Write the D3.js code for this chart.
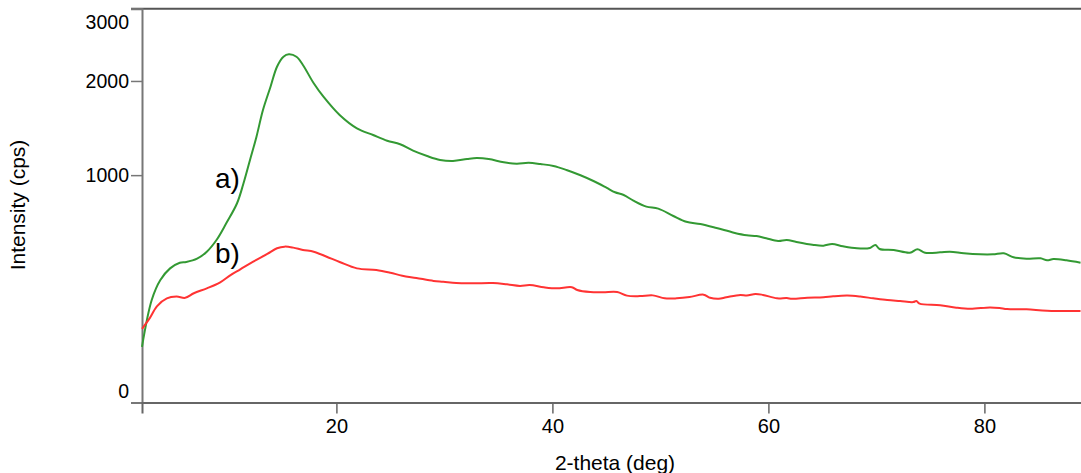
<!DOCTYPE html>
<html>
<head>
<meta charset="utf-8">
<script src="https://cdn.jsdelivr.net/npm/d3@7"></script>
<style>
  html, body { margin: 0; padding: 0; background: #fff; }
  svg { display: block; font-family: "Liberation Sans", Arial, sans-serif; }
</style>
</head>
<body>
<svg id="chart" width="1081" height="473"></svg>
<script>
// XRD pattern, intensity on a square-root axis
const yTicks = [0, 1000, 2000, 3000];
const xTicks = [20, 40, 60, 80];

// a) sample: 2-theta (deg), intensity (cps)
const thetaA = [2.0, 2.9, 3.7, 4.6, 5.5, 6.1, 7.1, 8.0, 8.9, 9.8, 10.8, 11.4, 12.0, 12.6, 13.2, 13.9, 14.5, 15.1, 15.6, 16.3, 16.9, 17.9, 18.8, 20.3, 21.9, 23.4, 24.7, 25.9, 27.1, 28.4, 29.6, 30.8, 32.1, 33.0, 34.1, 35.5, 36.7, 37.8, 38.9, 40.1, 41.3, 42.6, 43.8, 45.0, 45.8, 46.6, 47.5, 48.7, 49.8, 51.2, 52.4, 53.7, 55.2, 56.8, 58.0, 58.9, 59.8, 60.9, 61.7, 62.6, 64.2, 65.1, 65.9, 66.9, 68.2, 69.4, 69.9, 70.3, 71.6, 73.1, 73.8, 74.5, 75.9, 76.8, 78.1, 79.6, 80.8, 81.8, 82.7, 83.9, 85.2, 85.8, 86.4, 87.6, 88.9];
const countsA = [60, 203, 290, 348, 378, 382, 400, 440, 511, 621, 768, 930, 1138, 1367, 1655, 1929, 2181, 2313, 2345, 2313, 2204, 1971, 1809, 1599, 1454, 1384, 1326, 1290, 1227, 1175, 1138, 1128, 1147, 1156, 1147, 1116, 1103, 1112, 1100, 1082, 1046, 999, 949, 893, 855, 833, 788, 742, 727, 673, 632, 616, 589, 558, 541, 536, 522, 505, 511, 498, 480, 476, 486, 472, 460, 462, 480, 456, 450, 434, 454, 434, 436, 440, 431, 425, 425, 431, 408, 400, 402, 391, 398, 391, 378];

// b) sample
const thetaB = [2.0, 2.7, 3.4, 4.3, 5.2, 6.0, 6.8, 8.0, 9.2, 10.2, 11.1, 12.3, 13.6, 14.5, 15.2, 16.0, 16.9, 17.9, 19.1, 20.3, 21.9, 23.7, 25.0, 26.1, 27.4, 29.0, 29.9, 31.1, 32.7, 34.5, 35.8, 37.0, 37.9, 39.2, 40.4, 41.8, 42.3, 43.5, 44.7, 46.0, 46.9, 48.1, 49.3, 50.4, 51.5, 52.7, 54.0, 54.6, 55.4, 56.1, 57.4, 58.0, 58.8, 59.5, 60.8, 61.7, 62.2, 63.6, 65.1, 66.0, 67.3, 68.5, 69.7, 71.0, 72.2, 73.4, 73.7, 74.0, 75.9, 77.4, 78.7, 80.5, 81.4, 82.1, 83.9, 85.8, 88.9];
const countsB = [105, 137, 180, 210, 217, 212, 231, 252, 278, 314, 343, 384, 427, 460, 470, 464, 450, 440, 411, 382, 348, 340, 326, 311, 300, 286, 282, 276, 275, 276, 270, 263, 267, 257, 252, 257, 245, 236, 235, 236, 221, 219, 222, 210, 210, 215, 225, 212, 208, 214, 224, 221, 228, 224, 210, 211, 208, 212, 214, 218, 221, 217, 210, 203, 199, 195, 199, 189, 183, 174, 170, 175, 173, 169, 168, 163, 162];

const seriesLabels = ["a)", "b)"];
const colors = ["#339933", "#ff3333"];

const svg = d3.select("#chart");
const plotLeft = 142, plotRight = 1081.6, plotTop = 8.7, plotBottom = 402.5;

const x = d3.scaleLinear().domain([2, 89]).range([plotLeft, plotRight]);
const y = d3.scaleSqrt().domain([0, 3000]).range([plotBottom, plotTop]);

// frame line along the top
svg.append("line")
  .attr("x1", plotLeft - 11).attr("x2", 1081)
  .attr("y1", y(3000)).attr("y2", y(3000))
  .attr("stroke", "#555").attr("stroke-width", 2);

// y axis
const yAxis = svg.append("g")
  .attr("transform", `translate(${plotLeft},0)`)
  .call(d3.axisLeft(y).tickValues(yTicks).tickFormat(d3.format("d")).tickSize(11).tickPadding(2));
yAxis.select(".domain").attr("stroke", "#777").attr("stroke-width", 2);
yAxis.selectAll(".tick line").attr("stroke", "#777").attr("stroke-width", 1.5);
yAxis.selectAll(".tick text")
  .attr("font-size", 19.5).attr("fill", "#000")
  .attr("dy", d => d === 3000 ? "1.0em" : d === 0 ? "-0.25em" : "0.35em");

// x axis
const xAxis = svg.append("g")
  .attr("transform", `translate(0,${plotBottom})`)
  .call(d3.axisBottom(x).tickValues(xTicks).tickSize(11).tickPadding(5));
xAxis.select(".domain").attr("stroke", "#666").attr("stroke-width", 2);
xAxis.selectAll(".tick line").attr("stroke", "#666").attr("stroke-width", 1.5);
xAxis.selectAll(".tick text").attr("font-size", 20).attr("fill", "#000");

// axis titles
svg.append("text")
  .attr("x", 615).attr("y", 470)
  .attr("text-anchor", "middle").attr("font-size", 21)
  .text("2-theta (deg)");
svg.append("text")
  .attr("transform", "translate(25,205) rotate(-90)")
  .attr("text-anchor", "middle").attr("font-size", 21)
  .text("Intensity (cps)");

// pattern lines
const line = d3.line()
  .x(d => x(d[0])).y(d => y(d[1]))
  .curve(d3.curveCatmullRom.alpha(0.5));

const dataA = d3.zip(thetaA, countsA);
const dataB = d3.zip(thetaB, countsB);

svg.append("path").datum(dataA)
  .attr("fill", "none").attr("stroke", colors[0]).attr("stroke-width", 2)
  .attr("d", line);
svg.append("path").datum(dataB)
  .attr("fill", "none").attr("stroke", colors[1]).attr("stroke-width", 2)
  .attr("d", line);

// series labels
svg.append("text").attr("x", 215).attr("y", 188)
  .attr("font-size", 28).text(seriesLabels[0]);
svg.append("text").attr("x", 215).attr("y", 263)
  .attr("font-size", 28).text(seriesLabels[1]);
</script>
</body>
</html>
